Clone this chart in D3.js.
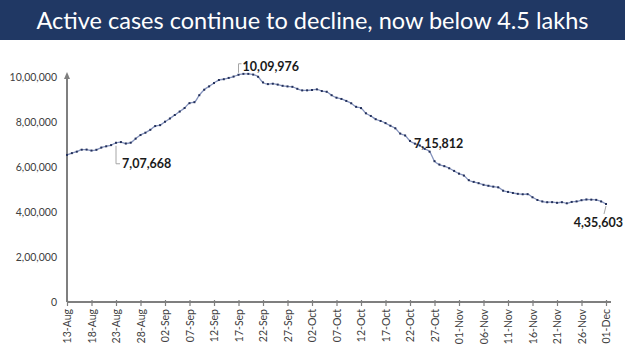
<!DOCTYPE html>
<html>
<head>
<meta charset="utf-8">
<script src="https://cdn.jsdelivr.net/npm/d3@7"></script>
<style>
  html, body { margin: 0; padding: 0; background: #fff; }
  svg { display: block; }
</style>
</head>
<body>
<svg id="chart" width="625" height="351"></svg>
<script>
const title = "Active cases continue to decline, now below 4.5 lakhs";
const startDate = "2020-08-13";
const endDate = "2020-12-01";
const activeCases = [
  // Aug 13 - Aug 31
  653622, 661595, 668220, 676900, 677444, 673166, 676514, 686395, 692028, 697330,
  707668, 710771, 704348, 708000, 725991, 742023, 752424, 765302, 781975,
  // Sep 1 - Sep 30
  785996, 801282, 815538, 831124, 846395, 862320, 883697, 888000, 919018, 943480,
  958316, 973175, 986598, 990061, 995933, 1002000, 1009976, 1014000, 1013964, 1010824,
  1001000, 975861, 968377, 970116, 966382, 960969, 958000, 956402, 947576, 940441,
  // Oct 1 - Oct 31
  940705, 942217, 944996, 937625, 934427, 919023, 907883, 902425, 893592, 883185,
  867496, 861853, 838729, 826876, 812390, 804528, 795087, 783311, 772055, 748538,
  740090, 715812, 703770, 695509, 680680, 668154, 625857, 610803, 603687, 594386,
  582649,
  // Nov 1 - Nov 30
  570458, 561908, 541405, 533787, 527962, 520773, 516632, 512665, 509673, 494657,
  489294, 484547, 480719, 478779, 479216, 465478, 453401, 446805, 443303, 443794,
  440962, 443486, 438667, 444746, 447000, 452344, 455555, 454940, 453956, 446952,
  // Dec 1
  435603
];
const yTicks = [0, 200000, 400000, 600000, 800000, 1000000];
const xTickStepDays = 5;
const callouts = [
  { date: "2020-08-23", label: "7,07,668" },
  { date: "2020-09-17", label: "10,09,976" },
  { date: "2020-10-22", label: "7,15,812" },
  { date: "2020-12-01", label: "4,35,603" }
];

const parse = d3.timeParse("%Y-%m-%d");
const t0 = parse(startDate), t1 = parse(endDate);
const dates = d3.timeDay.range(t0, d3.timeDay.offset(t1, 1));
const data = dates.map((d, i) => ({ date: d, value: activeCases[i] }));

const svg = d3.select("#chart");
const W = 625, H = 351;
const font = "Lato, 'Open Sans', sans-serif";

// Title bar
svg.append("rect").attr("x", 0).attr("y", 0).attr("width", W).attr("height", 40).attr("fill", "#203864");
svg.append("text").attr("x", W / 2).attr("y", 28.5).attr("text-anchor", "middle")
  .attr("fill", "#ffffff").attr("font-family", font)
  .attr("font-size", 23.5).text(title);

const x = d3.scaleTime().domain([t0, t1]).range([67, 606]);
const y = d3.scaleLinear().domain([0, 1000000]).range([302, 77]);

const fmtIN = v => {
  if (v === 0) return "0";
  const s = String(v);
  const last3 = s.slice(-3);
  let rest = s.slice(0, -3);
  rest = rest.replace(/\B(?=(\d{2})+(?!\d))/g, ",");
  return rest + "," + last3;
};

// Y axis
const yAxis = d3.axisLeft(y).tickValues(yTicks).tickSize(0).tickPadding(10).tickFormat(fmtIN);
const gy = svg.append("g").attr("transform", "translate(67,0)").call(yAxis);
gy.select(".domain").remove();
gy.selectAll("text").attr("font-family", font).attr("font-size", 10.5).attr("fill", "#404040");
svg.append("line").attr("x1", 67).attr("x2", 67).attr("y1", 302).attr("y2", 77)
  .attr("stroke", "#7f7f7f").attr("stroke-width", 2);
svg.append("path").attr("d", "M64,79 L67,72 L70,79 Z").attr("fill", "#7f7f7f");

// X axis
const xTicks = dates.filter((d, i) => i % xTickStepDays === 0);
const xAxis = d3.axisBottom(x).tickValues(xTicks).tickSize(4).tickPadding(3).tickFormat(d3.timeFormat("%d-%b"));
const gx = svg.append("g").attr("transform", "translate(0,302)").call(xAxis);
gx.select(".domain").attr("stroke", "#7f7f7f").attr("stroke-width", 2).attr("d", "M67,0H611");
gx.selectAll(".tick line").attr("stroke", "#7f7f7f").attr("stroke-width", 1.2).attr("y1", -2);
gx.selectAll("text").attr("font-family", font).attr("font-size", 10.5).attr("fill", "#404040")
  .attr("transform", "rotate(-90)").attr("text-anchor", "end").attr("dy", "0.35em").attr("x", -7).attr("y", 0);

// Line
const line = d3.line().x(d => x(d.date)).y(d => y(d.value)).curve(d3.curveMonotoneX);
svg.append("path").datum(data).attr("d", line).attr("fill", "none")
  .attr("stroke", "#8593bd").attr("stroke-width", 1.3);
svg.append("g").selectAll("rect").data(data).join("rect")
  .attr("x", d => x(d.date) - 1).attr("y", d => y(d.value) - 1)
  .attr("width", 2).attr("height", 2).attr("fill", "#23305a");

// Callouts
const pt = c => { const d = data.find(e => +e.date === +parse(c.date)); return [x(d.date), y(d.value)]; };
const lead = "#a6a6a6";
{
  const [px, py] = pt(callouts[0]);
  svg.append("path").attr("d", `M${px},${py + 3}V${py + 21}H${px + 4}`).attr("fill", "none").attr("stroke", lead).attr("stroke-width", 1);
  svg.append("text").attr("x", px + 6).attr("y", py + 25.5).attr("font-family", font).attr("font-weight", "bold")
    .attr("font-size", 12.5).attr("fill", "#1a1a1a").text(callouts[0].label);
}
{
  const [px, py] = pt(callouts[1]);
  svg.append("path").attr("d", `M${px},${py - 2}V${py - 11}H${px + 3}`).attr("fill", "none").attr("stroke", lead).attr("stroke-width", 1);
  svg.append("text").attr("x", px + 4).attr("y", py - 4).attr("font-family", font).attr("font-weight", "bold")
    .attr("font-size", 12.5).attr("fill", "#1a1a1a").text(callouts[1].label);
}
{
  const [px, py] = pt(callouts[2]);
  svg.append("text").attr("x", px + 4).attr("y", py + 7).attr("font-family", font).attr("font-weight", "bold")
    .attr("font-size", 12.5).attr("fill", "#1a1a1a").text(callouts[2].label);
}
{
  const [px, py] = pt(callouts[3]);
  svg.append("path").attr("d", `M${px},${py + 2}L${px - 2},${py + 10}`).attr("fill", "none").attr("stroke", lead).attr("stroke-width", 1);
  svg.append("text").attr("x", 623).attr("y", py + 23).attr("text-anchor", "end").attr("font-family", font).attr("font-weight", "bold")
    .attr("font-size", 12.5).attr("fill", "#1a1a1a").text(callouts[3].label);
}
</script>
</body>
</html>
